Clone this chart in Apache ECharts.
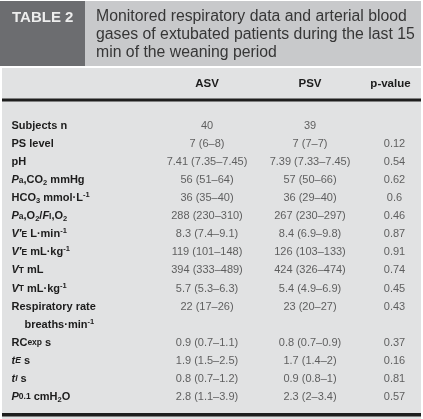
<!DOCTYPE html>
<html><head><meta charset="utf-8">
<script src="https://cdn.jsdelivr.net/npm/echarts@6/dist/echarts.min.js"></script>
<style>html,body{margin:0;padding:0;background:#fff}#c{width:423px;height:419px}</style>
</head><body><div id="c"></div>
<script>
const tableTitle = 'TABLE 2';
const caption = [
  'Monitored respiratory data and arterial blood',
  'gases of extubated patients during the last 15',
  'min of the weaning period'
];
const columns = ['ASV', 'PSV', 'p-value'];
const rowLabels = [
  '{b|Subjects n}',
  '{b|PS level}',
  '{b|pH}',
  '{i|P}{sc|a}{b|,CO}{sub|2}{b| mmHg}',
  '{b|HCO}{sub|3}{b| mmol·L}{sup|-1}',
  '{i|P}{sc|a}{b|,O}{sub|2}{b|/}{i|F}{sc|I}{b|,O}{sub|2}',
  '{i|V′}{sc|E}{b| L·min}{sup|-1}',
  '{i|V′}{sc|E}{b| mL·kg}{sup|-1}',
  '{i|V}{sc|T}{b| mL}',
  '{i|V}{sc|T}{b| mL·kg}{sup|-1}',
  '{b|Respiratory rate}',
  '{ind|breaths·min}{sup|-1}',
  '{b|RC}{sc|exp}{b| s}',
  '{i|t}{sci|E}{b| s}',
  '{i|t}{sci|I}{b| s}',
  '{i|P}{sc|0.1}{b| cmH}{sub|2}{b|O}'
];
const asvValues = ['40', '7 (6–8)', '7.41 (7.35–7.45)', '56 (51–64)', '36 (35–40)', '288 (230–310)',
  '8.3 (7.4–9.1)', '119 (101–148)', '394 (333–489)', '5.7 (5.3–6.3)', '22 (17–26)', '',
  '0.9 (0.7–1.1)', '1.9 (1.5–2.5)', '0.8 (0.7–1.2)', '2.8 (1.1–3.9)'];
const psvValues = ['39', '7 (7–7)', '7.39 (7.33–7.45)', '57 (50–66)', '36 (29–40)', '267 (230–297)',
  '8.4 (6.9–9.8)', '126 (103–133)', '424 (326–474)', '5.4 (4.9–6.9)', '23 (20–27)', '',
  '0.8 (0.7–0.9)', '1.7 (1.4–2)', '0.9 (0.8–1)', '2.3 (2–3.4)'];
const pValues = ['', '0.12', '0.54', '0.62', '0.6', '0.46', '0.87', '0.91', '0.74', '0.45', '0.43', '',
  '0.37', '0.16', '0.81', '0.57'];

const FONT = 'Liberation Sans, Arial, Helvetica, sans-serif';
const LABEL_COLOR = '#1c1c1c';
const VALUE_COLOR = '#3d3d3d';
const rowKeys = rowLabels.map((_, i) => 'r' + i);
const columnValues = [asvValues, psvValues, pValues];

const gridTop = 117, gridHeight = 288.8;
const gridLayout = [
  { left: 157, width: 100 },
  { left: 260, width: 100 },
  { left: 366, width: 60 }
];
const headerPadding = [[0, 0, 0, 0], [0, 0, 0, 0], [0, 8, 0, 0]];

const richBase = { fontFamily: FONT, color: LABEL_COLOR, fontWeight: 'bold', lineHeight: 14 };
const rich = {
  b: Object.assign({}, richBase, { fontSize: 11 }),
  i: Object.assign({}, richBase, { fontSize: 11, fontStyle: 'italic' }),
  sc: Object.assign({}, richBase, { fontSize: 8.5 }),
  sci: Object.assign({}, richBase, { fontSize: 8.5, fontStyle: 'italic' }),
  sub: Object.assign({}, richBase, { fontSize: 7.5, lineHeight: 9, verticalAlign: 'bottom' }),
  sup: Object.assign({}, richBase, { fontSize: 7.5, lineHeight: 9, verticalAlign: 'top' }),
  ind: Object.assign({}, richBase, { fontSize: 11, padding: [0, 0, 0, 13] })
};

const grids = [], xAxes = [], yAxes = [], series = [];
columns.forEach((col, c) => {
  grids.push({ left: gridLayout[c].left, width: gridLayout[c].width, top: gridTop, height: gridHeight, containLabel: false });
  xAxes.push({
    type: 'category', gridIndex: c, position: 'top', data: [col],
    axisLine: { show: false }, axisTick: { show: false }, splitLine: { show: false },
    axisLabel: { margin: 27, fontFamily: FONT, fontWeight: 'bold', fontSize: 11.5, color: LABEL_COLOR, padding: headerPadding[c] }
  });
  yAxes.push({
    type: 'category', gridIndex: c, inverse: true, data: rowKeys,
    axisLine: { show: false }, axisTick: { show: false }, splitLine: { show: false },
    axisLabel: c === 0 ? {
      show: true, align: 'left', margin: gridLayout[0].left - 11.5,
      formatter: (v, idx) => rowLabels[idx], rich: rich
    } : { show: false }
  });
  series.push({
    type: 'scatter', xAxisIndex: c, yAxisIndex: c, symbolSize: 0, silent: true,
    data: columnValues[c].map((v, r) => [0, r]),
    label: {
      show: true, position: 'inside', fontFamily: FONT, fontSize: 11, color: VALUE_COLOR,
      formatter: p => columnValues[c][p.dataIndex]
    }
  });
});

const chart = echarts.init(document.getElementById('c'), null, { renderer: 'canvas' });
chart.setOption({
  animation: false,
  backgroundColor: '#ffffff',
  graphic: [
    { type: 'rect', z: -10, shape: { x: 0, y: 1, width: 421, height: 65 }, style: { fill: '#c8c9cb' } },
    { type: 'rect', z: -9, shape: { x: 0, y: 1, width: 85, height: 65 }, style: { fill: '#6c6d70' } },
    { type: 'rect', z: -10, shape: { x: 2, y: 68, width: 419, height: 351 }, style: { fill: '#e1e2e3' } },
    { type: 'text', z: 5, x: 12, y: 17.5, style: { text: tableTitle, fill: '#ededed', font: 'bold 15px ' + FONT, verticalAlign: 'middle' } },
    { type: 'text', z: 5, x: 96, y: 8, style: { text: caption.join('\n'), fill: '#363636', font: '15.8px ' + FONT, lineHeight: 17.7, verticalAlign: 'top' } },
    { type: 'rect', z: 5, shape: { x: 2, y: 98.5, width: 419, height: 3 }, style: { fill: '#1e1e1e' } },
    { type: 'rect', z: 5, shape: { x: 2, y: 413, width: 419, height: 3.5 }, style: { fill: '#1e1e1e' } }
  ],
  grid: grids,
  xAxis: xAxes,
  yAxis: yAxes,
  series: series
});
</script>
</body></html>
